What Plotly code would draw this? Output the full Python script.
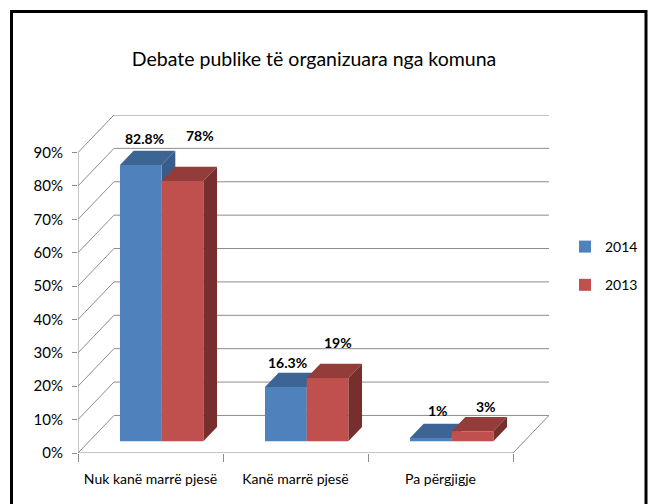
import plotly.graph_objects as go

# ---------------- data ----------------
categories = ["Nuk kanë marrë pjesë", "Kanë marrë pjesë", "Pa përgjigje"]
series_names = ["2014", "2013"]
values_2014 = [82.8, 16.3, 1]
values_2013 = [78, 19, 3]
labels_2014 = ["82.8%", "16.3%", "1%"]
labels_2013 = ["78%", "19%", "3%"]
y_tick_values = [0, 10, 20, 30, 40, 50, 60, 70, 80, 90]
y_tick_labels = ["0%", "10%", "20%", "30%", "40%", "50%", "60%", "70%", "80%", "90%"]
title_text = "Debate publike të organizuara nga komuna"

# ---------------- styling / geometry ----------------
W, H = 649, 504
ML, MR, MT, MB = 78, 100, 115, 51
FONT = "Lato, Roboto, sans-serif"
GRID = "#8c8c8c"
DX = 0.248        # depth offset in category units
DY = 11.25        # depth offset in percent units
F0, F1 = 0.31, 0.69   # bar depth (front/back fraction)
BAR_W = 0.2875
Y_MAX = 90
face_colors = {
    "2014": dict(front="#4F81BD", top="#3C6494", side="#385D8A"),
    "2013": dict(front="#C0504D", top="#943C3A", side="#772F2D"),
}
# label nudges in pixels (x, y) as placed in the original
label_nudges = {
    "2014": [(4, 12), (2, 10), (7, 13)],
    "2013": [(17, 31), (10, 21), (13, 11)],
}

series_values = {"2014": values_2014, "2013": values_2013}
series_labels = {"2014": labels_2014, "2013": labels_2013}

x_lo, x_hi = -0.5, len(categories) - 0.5

shapes = []
def line(x0, y0, x1, y1, color=GRID, width=1):
    shapes.append(dict(type="line", xref="x", yref="y", x0=x0, y0=y0, x1=x1, y1=y1,
                       line=dict(color=color, width=width), layer="below"))

# back wall gridlines + left wall diagonals
for v in y_tick_values:
    line(x_lo + DX, v + DY, x_hi + DX, v + DY)
    line(x_lo, v, x_lo + DX, v + DY)
# front y-axis line, floor edges
line(x_lo, 0, x_lo, Y_MAX)
line(x_lo, 0, x_hi, 0)
line(x_hi, 0, x_hi + DX, DY)

def poly(pts, color):
    path = "M " + " L ".join(f"{px},{py}" for px, py in pts) + " Z"
    shapes.append(dict(type="path", xref="x", yref="y", path=path,
                       fillcolor=color, line=dict(width=0), layer="below"))

fig = go.Figure()
annotations = []
for s, name in enumerate(series_names):
    vals = series_values[name]
    col = face_colors[name]
    off = -BAR_W + s * BAR_W
    for k, v in enumerate(vals):
        xl = k + off
        xr = xl + BAR_W
        # top face
        poly([(xl + F0 * DX, v + F0 * DY), (xr + F0 * DX, v + F0 * DY),
              (xr + F1 * DX, v + F1 * DY), (xl + F1 * DX, v + F1 * DY)], col["top"])
        # side face
        poly([(xr + F0 * DX, F0 * DY), (xr + F1 * DX, F1 * DY),
              (xr + F1 * DX, v + F1 * DY), (xr + F0 * DX, v + F0 * DY)], col["side"])
        nx, ny = label_nudges[name][k]
        annotations.append(dict(
            x=xl + BAR_W / 2 + F0 * DX, y=v + F1 * DY, xref="x", yref="y",
            text="<b>" + series_labels[name][k] + "</b>", showarrow=False,
            xshift=nx, yshift=ny, yanchor="middle",
            font=dict(family=FONT, size=14, color="#000000")))
    fig.add_trace(go.Bar(
        name=name, x=list(range(len(categories))), y=vals,
        base=F0 * DY, offset=off + F0 * DX, width=BAR_W,
        marker=dict(color=col["front"], line=dict(width=0)),
        legendgroup=name, hoverinfo="skip"))

# frame around the chart (in paper coordinates derived from pixel margins)
pw, ph = W - ML - MR, H - MT - MB
def px2paper_x(p): return (p - ML) / pw
def px2paper_y(p): return (H - MB - p) / ph
shapes.append(dict(type="rect", xref="paper", yref="paper",
                   x0=px2paper_x(11.5), x1=px2paper_x(646), y0=px2paper_y(515), y1=px2paper_y(11.5),
                   line=dict(color="#000000", width=3), fillcolor="rgba(0,0,0,0)", layer="above"))

fig.update_layout(
    width=W, height=H,
    margin=dict(l=ML, r=MR, t=MT, b=MB, autoexpand=False),
    paper_bgcolor="white", plot_bgcolor="white",
    barmode="overlay",
    showlegend=True,
    title=dict(text=title_text, x=314 / W, y=1 - 59 / H, xref="container", yref="container",
               xanchor="center", yanchor="middle",
               font=dict(family=FONT, size=19.5, color="#000000")),
    legend=dict(x=px2paper_x(565), y=px2paper_y(231), xanchor="left", yanchor="top",
                font=dict(family=FONT, size=14, color="#000000"),
                tracegroupgap=17, bgcolor="rgba(0,0,0,0)"),
    shapes=shapes,
    annotations=annotations,
    xaxis=dict(range=[x_lo, x_hi + DX], showgrid=False, zeroline=False, showline=False,
               tickmode="array", tickvals=list(range(len(categories))), ticktext=categories,
               ticks="", tickfont=dict(family=FONT, size=14, color="#000000"),
               ticklabelstandoff=16,
               minor=dict(tickmode="array", tickvals=[x_lo + i for i in range(len(categories) + 1)],
                          ticks="outside", ticklen=8, tickcolor=GRID, tickwidth=1, showgrid=False),
               fixedrange=True),
    yaxis=dict(range=[0, Y_MAX + DY], showgrid=False, zeroline=False, showline=False,
               tickmode="array", tickvals=y_tick_values, ticktext=y_tick_labels,
               ticks="outside", ticklen=5, tickcolor=GRID, tickwidth=1,
               tickfont=dict(family=FONT, size=15, color="#000000"),
               ticklabelstandoff=6, fixedrange=True),
)

fig.write_html("out.html", config={"displayModeBar": False},
               post_script="document.body.style.margin='0';document.body.style.overflow='hidden';")
